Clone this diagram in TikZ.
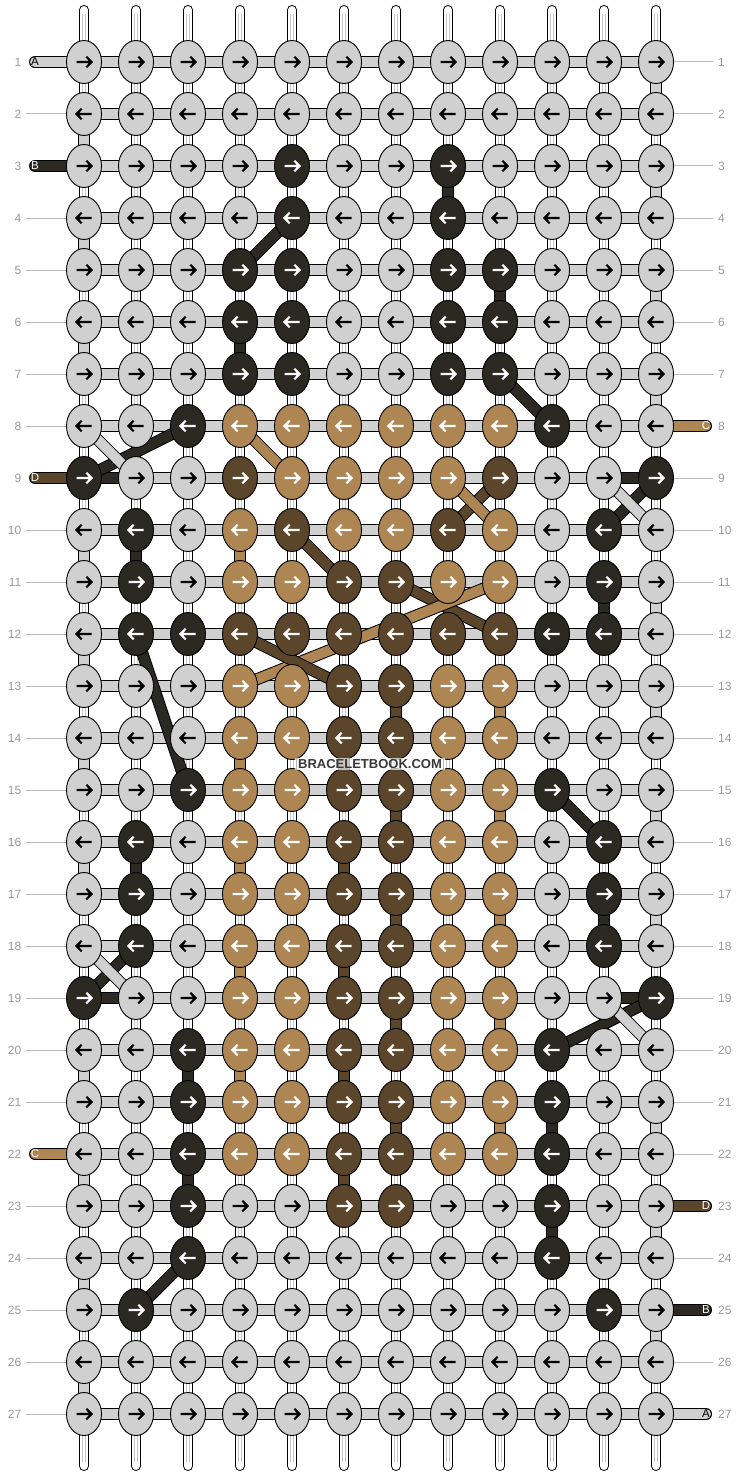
\documentclass[tikz,border=0pt]{standalone}
\usepackage{fontspec}
\setmainfont{Liberation Sans}
\usetikzlibrary{shapes.geometric}
\pgfdeclarelayer{bg}
\pgfsetlayers{bg,main}
\definecolor{cL}{HTML}{D0D0D0}
\definecolor{cK}{HTML}{2B2921}
\definecolor{cT}{HTML}{AE8653}
\definecolor{cN}{HTML}{5B462B}
\definecolor{cCore}{HTML}{C4C4C4}
\definecolor{numgray}{HTML}{999999}
\definecolor{tickgray}{HTML}{BBBBBB}
\definecolor{wmgray}{HTML}{383838}
\tikzset{
  knot/.style={ellipse, draw=black, line width=0.9bp, minimum width=35bp, minimum height=43bp, inner sep=0pt},
  strand/.style={draw=black, line width=1bp, double=#1, double distance=10bp},
  basestr/.style={draw=black, line width=1bp, double=white, double distance=8bp, line cap=round},
  basecore/.style={draw=cCore, line width=0.9bp, double=white, double distance=2.6bp},
  arr/.style={line width=2.2bp, line join=miter},
  num/.style={font=\fontsize{12bp}{12bp}\selectfont, text=numgray, inner sep=0pt},
  lbl/.style={font=\fontsize{11.5bp}{11.5bp}\selectfont, inner sep=0pt},
  tick/.style={draw=tickgray, line width=1bp},
}
\begin{document}
\begin{tikzpicture}[x=1bp,y=-1bp]
\useasboundingbox (0,0) rectangle (740,1476);
% ---- colour map ----
\foreach \r/\lst in {3/{5,8},4/{5,8},5/{4,5,8,9},6/{4,5,8,9},7/{4,5,8,9},8/{3,10},9/{1,12},10/{2,11},11/{2,11},12/{2,3,10,11},15/{3,10},16/{2,11},17/{2,11},18/{2,11},19/{1,12},20/{3,10},21/{3,10},22/{3,10},23/{3,10},24/{3,10},25/{2,11}}
  {\foreach \c in \lst {\expandafter\xdef\csname kc\r-\c\endcsname{K}}}
\foreach \r/\lst in {8/{4,5,6,7,8,9},9/{5,6,7,8},10/{4,6,7,9},11/{4,5,8,9}}
  {\foreach \c in \lst {\expandafter\xdef\csname kc\r-\c\endcsname{T}}}
\foreach \r in {13,...,22}
  {\foreach \c in {4,5,8,9} {\expandafter\xdef\csname kc\r-\c\endcsname{T}}}
\foreach \r/\lst in {9/{4,9},10/{5,8},11/{6,7},12/{4,5,6,7,8,9}}
  {\foreach \c in \lst {\expandafter\xdef\csname kc\r-\c\endcsname{N}}}
\foreach \r in {13,...,23}
  {\foreach \c in {6,7} {\expandafter\xdef\csname kc\r-\c\endcsname{N}}}
% ---- knots ----
\foreach \r in {1,...,27}{
  \foreach \c in {1,...,12}{
    \ifcsname kc\r-\c\endcsname \edef\kk{\csname kc\r-\c\endcsname}\else \def\kk{L}\fi
    \if L\kk \def\ac{black}\else \def\ac{white}\fi
    \node[knot, fill=c\kk] (k-\r-\c) at ({84+52*(\c-1)},{62+52*(\r-1)}) {};
    \ifodd\r
      \draw[arr,\ac] (k-\r-\c.center) ++(-7.5,0) -- ++(15,0) ++(-5.2,-5.3) -- ++(5.2,5.3) -- ++(-5.2,5.3);
    \else
      \draw[arr,\ac] (k-\r-\c.center) ++(7.5,0) -- ++(-15,0) ++(5.2,-5.3) -- ++(-5.2,5.3) -- ++(5.2,5.3);
    \fi
  }
}
% ---- row numbers ----
\foreach \r in {1,...,27}{
  \node[num, anchor=east] (ln-\r) at (21.5,{62+52*(\r-1)}) {\r};
  \node[num, anchor=west] (rn-\r) at (718,{62+52*(\r-1)}) {\r};
}
% ---- string labels ----
\node[lbl, text=black] (la-1) at (35,62) {A};
\node[lbl, text=white] (la-3) at (35,166) {B};
\node[lbl, text=white] (la-9) at (35,478) {D};
\node[lbl, text=white] (la-22) at (35,1154) {C};
\node[lbl, text=white] (ra-8) at (706,426) {C};
\node[lbl, text=white] (ra-23) at (706,1206) {D};
\node[lbl, text=white] (ra-25) at (706,1310) {B};
\node[lbl, text=black] (ra-27) at (706,1414) {A};
% ---- watermark ----
\node[font=\bfseries\fontsize{13bp}{13bp}\selectfont, text=wmgray, fill=white, fill opacity=0.7, text opacity=1, inner xsep=3bp, inner ysep=1.5bp] (wm) at (370,764) {BRACELETBOOK.COM};

\begin{pgfonlayer}{bg}
% base strings
\foreach \c in {1,...,12}{
  \coordinate (top-\c) at ({84+52*(\c-1)},10);
  \coordinate (bot-\c) at ({84+52*(\c-1)},1466);
  \draw[basestr] (top-\c) -- (bot-\c);
  \draw[basecore, shorten <=4bp, shorten >=4bp] (top-\c) -- (bot-\c);
}
% ticks
\foreach \r in {2,4,5,6,7,8,10,11,12,13,14,15,16,17,18,19,20,21,23,24,25,26,27}
  \draw[tick, shorten <=4.5bp] (ln-\r.east) -- (k-\r-1.west);
\foreach \r in {1,2,3,4,5,6,7,9,10,11,12,13,14,15,16,17,18,19,20,21,22,24,26}
  \draw[tick, shorten >=5bp] (k-\r-12.east) -- (rn-\r.west);
% pills
\draw[strand=cK, line cap=round] (la-3.center) -- (k-3-1.center);
\draw[strand=cN, line cap=round] (la-9.center) -- (k-9-1.center);
\draw[strand=cT, line cap=round] (la-22.center) -- (k-22-1.center);
\draw[strand=cT, line cap=round] (k-8-12.center) -- (ra-8.center);
\draw[strand=cN, line cap=round] (k-23-12.center) -- (ra-23.center);
\draw[strand=cK, line cap=round] (k-25-12.center) -- (ra-25.center);
\draw[strand=cL, line cap=round] (la-1.center) -- (k-1-12.center);
\draw[strand=cL, line cap=round] (k-27-1.center) -- (ra-27.center);
% horizontal rows
\draw[strand=cK] (k-9-1.center) -- (k-9-12.center);
\draw[strand=cK] (k-19-1.center) -- (k-19-12.center);
\foreach \r in {2,...,8,10,11,...,18,20,21,...,26}
  \draw[strand=cL] (k-\r-1.center) -- (k-\r-12.center);
\draw[strand=cL] (k-9-2.center) -- (k-9-11.center);
\draw[strand=cL] (k-19-2.center) -- (k-19-11.center);
% vertical segments
\foreach \c/\r [evaluate=\r as \rr using int(\r+1)] in {12/1,12/3,12/5,12/7,12/11,12/13,12/15,12/17,12/21,12/23,12/25,1/2,1/4,1/6,1/10,1/12,1/14,1/16,1/20,1/22,1/24,1/26}
  \draw[strand=cL] (k-\r-\c.center) -- (k-\rr-\c.center);
\foreach \c/\r [evaluate=\r as \rr using int(\r+1)] in {8/3,9/5,4/6,2/10,11/11,2/16,11/17,3/20,10/21,3/22,10/23}
  \draw[strand=cK] (k-\r-\c.center) -- (k-\rr-\c.center);
\foreach \c/\r [evaluate=\r as \rr using int(\r+1)] in {4/10,9/13,9/15,9/17,9/19,9/21,4/14,4/16,4/18,4/20}
  \draw[strand=cT] (k-\r-\c.center) -- (k-\rr-\c.center);
\foreach \c/\r [evaluate=\r as \rr using int(\r+1)] in {7/13,7/15,7/17,7/19,7/21,6/14,6/16,6/18,6/20,6/22}
  \draw[strand=cN] (k-\r-\c.center) -- (k-\rr-\c.center);
% diagonal segments, in order of their lower knot
\foreach \ra/\ca/\rb/\cb/\sc in {4/5/5/4/cK,7/9/8/10/cK,8/3/9/1/cK,8/1/9/2/cL,8/4/9/5/cT,9/9/10/8/cN,9/8/10/9/cT,9/12/10/11/cK,9/11/10/12/cL,10/5/11/6/cN,11/7/12/9/cN,11/9/13/4/cT,12/4/13/6/cN,12/2/15/3/cK,15/10/16/11/cK,18/2/19/1/cK,18/1/19/2/cL,19/12/20/10/cK,19/11/20/12/cL,24/3/25/2/cK}
  \draw[strand=\sc] (k-\ra-\ca.center) -- (k-\rb-\cb.center);
\end{pgfonlayer}
\end{tikzpicture}
\end{document}
